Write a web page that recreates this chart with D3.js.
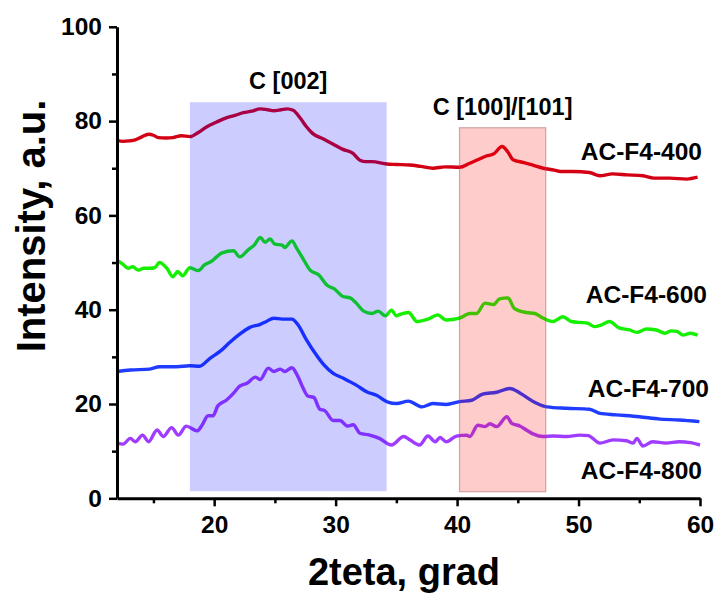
<!DOCTYPE html>
<html>
<head>
<meta charset="utf-8">
<script src="https://cdn.jsdelivr.net/npm/d3@7"></script>
<style>
  body { margin: 0; background: #fff; }
  svg text { font-family: "Liberation Sans", Arial, sans-serif; font-weight: bold; fill: #000; }
</style>
</head>
<body>
<div id="chart"></div>
<script>
// XRD patterns, 2theta (deg) vs intensity (a.u.)
const names = ["AC-F4-400", "AC-F4-600", "AC-F4-700", "AC-F4-800"]

const s400 = [[12,75.9],[12.5,75.7],[13,75.8],[13.5,76.0],[14,76.6],[14.6,77.2],[15,77.0],[15.4,76.5],[16,76.4],[16.6,76.5],[17.3,76.9],[18,76.7],[18.7,77.6],[19.4,78.8],[20.2,79.8],[21,80.7],[21.7,81.2],[22.4,81.8],[23.1,82.1],[23.8,82.6],[24.4,82.4],[24.9,82.2],[25.5,82.4],[26,82.6],[26.5,82.3],[27.1,80.6],[27.6,78.8],[28.1,77.4],[29,76.2],[29.8,75.1],[30.6,74.0],[31.4,73.2],[32,71.7],[32.5,71.4],[33,71.4],[34.2,70.9],[35,70.8],[36.1,70.7],[37,70.4],[38,70.0],[39,70.3],[40.2,70.2],[41,71.0],[41.7,71.8],[42.4,72.6],[43,73.0],[43.7,74.6],[44.2,73.4],[44.6,71.8],[45.5,71.2],[46.3,70.6],[47.1,70.0],[48,69.6],[48.5,69.3],[49.5,69.3],[50.9,69.1],[51.75,68.4],[52.8,68.8],[54,68.6],[55.3,68.4],[56.2,67.9],[57.5,67.9],[58.9,67.7],[59.8,68.1]]

const s600 = [[12,50.5],[12.5,49.6],[12.9,48.8],[13.3,49.1],[13.75,48.4],[14.2,48.8],[14.7,48.8],[15.1,48.9],[15.5,50.0],[16.1,48.8],[16.6,47.0],[17,48.1],[17.4,47.2],[18,48.9],[18.7,48.3],[19.2,49.5],[19.8,50.3],[20.2,51.2],[20.6,52.0],[21.6,52.5],[22.1,51.2],[22.8,52.7],[23.3,53.7],[23.8,55.3],[24.2,54.3],[24.6,55.0],[25,53.9],[25.6,53.7],[25.8,53.2],[26.4,54.6],[26.8,53.0],[27.3,50.9],[27.9,48.4],[28.6,47.4],[29.3,45.2],[29.9,44.4],[30.6,42.8],[31.2,42.5],[31.7,41.4],[32.3,39.7],[33,39.2],[33.5,39.7],[34.1,38.7],[34.6,39.9],[35,38.7],[35.3,39.0],[36,39.4],[36.7,37.5],[37.6,38.0],[38.4,38.9],[39.1,37.8],[40.2,38.2],[41.05,39.2],[41.6,39.2],[42.3,41.4],[43,41.1],[43.5,42.3],[44.2,42.5],[44.7,40.3],[45.7,39.4],[46.4,39.2],[47.1,38.2],[47.9,37.5],[48.7,38.5],[49.4,37.5],[50.1,37.3],[50.8,37.1],[51.3,36.4],[51.9,36.8],[52.55,37.5],[53.3,36.2],[54.2,35.7],[54.8,35.2],[55.6,35.9],[56.4,35.7],[57.1,35.0],[57.65,35.5],[58.1,35.4],[58.6,34.6],[59.2,35.0],[59.8,34.6]]

const s700 = [[12,26.9],[13.1,27.2],[14.7,27.4],[15.5,27.9],[16.9,27.9],[18,28.1],[18.8,28.0],[19.65,29.7],[20.5,31.2],[21.3,33.1],[22.1,34.8],[22.9,36.2],[23.8,36.9],[24.3,37.5],[24.9,38.2],[25.6,38.0],[26.4,38.0],[26.9,36.8],[27.6,33.6],[28.3,30.8],[29,28.4],[29.8,26.5],[30.6,25.5],[31.7,24.0],[32.55,22.6],[33.4,21.8],[34.3,20.4],[35,20.1],[36,20.6],[37.1,19.4],[38,20.1],[39.1,19.9],[40.2,20.5],[41.2,20.8],[42.1,22.1],[43.25,22.5],[44.35,23.3],[45.2,22.3],[46.3,20.5],[47.4,19.4],[49,19.1],[50.9,18.9],[51.75,18.0],[53.1,17.7],[55,17.3],[56.7,16.8],[58.3,16.6],[59.95,16.25]]

const s800 = [[12,11.7],[12.5,11.5],[13.1,12.7],[13.5,12.0],[14.1,13.4],[14.6,12.0],[15.3,14.5],[15.8,13.1],[16.5,15.0],[17.05,13.4],[17.7,15.3],[18.6,14.3],[19,15.5],[19.5,17.5],[19.9,17.5],[20.3,19.6],[21,20.8],[21.6,22.3],[22.1,23.8],[22.7,24.4],[23.4,25.7],[23.8,25.2],[24.45,27.6],[24.9,26.9],[25.45,27.4],[25.8,26.9],[26.4,27.7],[26.9,25.8],[27.3,23.5],[27.7,21.7],[28.2,21.4],[28.7,18.9],[29.1,18.6],[29.8,16.5],[30.35,16.5],[31,15.3],[31.45,15.6],[32,13.8],[32.8,13.4],[33.6,12.7],[34.6,11.3],[35.6,13.1],[36.1,12.4],[36.9,11.3],[37.6,13.2],[38.2,12.0],[38.6,12.9],[39.1,12.0],[39.95,13.2],[40.8,13.4],[41.05,13.1],[41.7,15.5],[42.3,15.2],[42.7,15.8],[43.25,15.2],[44.1,17.3],[44.5,15.9],[45.2,15.3],[45.7,14.5],[46.3,13.6],[47.1,13.1],[47.9,13.2],[49,13.1],[50.1,13.4],[50.8,13.3],[51.75,11.7],[52.85,12.4],[53.95,12.2],[54.5,11.7],[54.8,12.7],[55.3,11.1],[56.1,12.0],[57.2,11.7],[58.3,12.0],[59.2,11.8],[60,11.3]]

const series = [s400, s600, s700, s800]
const colors = ["#d40014", "#14f000", "#1f3cff", "#a03cff"]

// highlighted reflections: [x0, x1, y0, y1] in data units
const bands = [[18.0, 34.2, 1.5, 84], [40.2, 47.3, 1.4, 78.6]]
const bandLabels = ["C [002]", "C [100]/[101]"]

const xTicks = [20, 30, 40, 50, 60]
const yTicks = [0, 20, 40, 60, 80, 100]

const width = 720, height = 599

const svg = d3.select("#chart").append("svg")
    .attr("width", width)
    .attr("height", height)

const x = d3.scaleLinear().domain([12, 60]).range([117, 700])
const y = d3.scaleLinear().domain([0, 100]).range([498.3, 26.8])

const line = d3.line()
    .curve(d3.curveMonotoneX)
    .x(d => x(d[0]))
    .y(d => y(d[1]))

svg.append("g")
  .selectAll("path")
  .data(series)
  .join("path")
    .attr("fill", "none")
    .attr("stroke", (d, i) => colors[i])
    .attr("stroke-width", 3.4)
    .attr("stroke-linejoin", "round")
    .attr("d", line)

// shaded regions sit over the curves, like in the original
svg.append("rect")
    .attr("x", x(bands[0][0]))
    .attr("y", y(bands[0][3]))
    .attr("width", x(bands[0][1]) - x(bands[0][0]))
    .attr("height", y(bands[0][2]) - y(bands[0][3]))
    .attr("fill", "#0000ff")
    .attr("fill-opacity", 0.2)

svg.append("rect")
    .attr("x", x(bands[1][0]))
    .attr("y", y(bands[1][3]))
    .attr("width", x(bands[1][1]) - x(bands[1][0]))
    .attr("height", y(bands[1][2]) - y(bands[1][3]))
    .attr("fill", "#ff0000")
    .attr("fill-opacity", 0.2)
    .attr("stroke", "#a05050")
    .attr("stroke-opacity", 0.45)
    .attr("stroke-width", 1.2)

svg.append("g")
  .selectAll("text")
  .data(bandLabels)
  .join("text")
    .attr("x", (d, i) => x((bands[i][0] + bands[i][1]) / 2))
    .attr("y", (d, i) => y(bands[i][3]) - 13)
    .attr("text-anchor", "middle")
    .attr("font-size", 23.5)
    .text(d => d)

// curve names on the right
const labelY = [71.7, 41.4, 21.5, 4.1]
const labelDx = [2, 7, 9, 2]
svg.append("g")
  .selectAll("text")
  .data(names)
  .join("text")
    .attr("x", (d, i) => x(60) + labelDx[i])
    .attr("y", (d, i) => y(labelY[i]))
    .attr("text-anchor", "end")
    .attr("font-size", 24.5)
    .text(d => d)

// axes
const xAxis = d3.axisBottom(x).tickValues(xTicks).tickSize(8).tickSizeOuter(0).tickPadding(9)
const xMinor = d3.axisBottom(x).tickValues([15, 25, 35, 45, 55]).tickSize(5).tickFormat("")
const yAxis = d3.axisLeft(y).tickValues(yTicks).tickSize(8).tickSizeOuter(0).tickPadding(7)
const yMinor = d3.axisLeft(y).tickValues([10, 30, 50, 70, 90]).tickSize(5).tickFormat("")

function style(g) {
  g.select(".domain").attr("stroke", "#000").attr("stroke-width", 3)
  g.selectAll(".tick line").attr("stroke", "#000").attr("stroke-width", 2.5)
  g.selectAll(".tick text").attr("font-size", 24.5).attr("font-family", null)
}

svg.append("g").attr("transform", `translate(0,${y(0)})`).call(xMinor).call(style)
  .select(".domain").remove()
svg.append("g").attr("transform", `translate(${x(12)},0)`).call(yMinor).call(style)
  .select(".domain").remove()
svg.append("g").attr("transform", `translate(0,${y(0)})`).call(xAxis).call(style)
svg.append("g").attr("transform", `translate(${x(12)},0)`).call(yAxis).call(style)

svg.append("text")
    .attr("x", 404)
    .attr("y", 585)
    .attr("text-anchor", "middle")
    .attr("font-size", 38)
    .text("2teta, grad")

svg.append("text")
    .attr("transform", "translate(45,226) rotate(-90)")
    .attr("text-anchor", "middle")
    .attr("font-size", 40)
    .text("Intensity, a.u.")
</script>
</body>
</html>
